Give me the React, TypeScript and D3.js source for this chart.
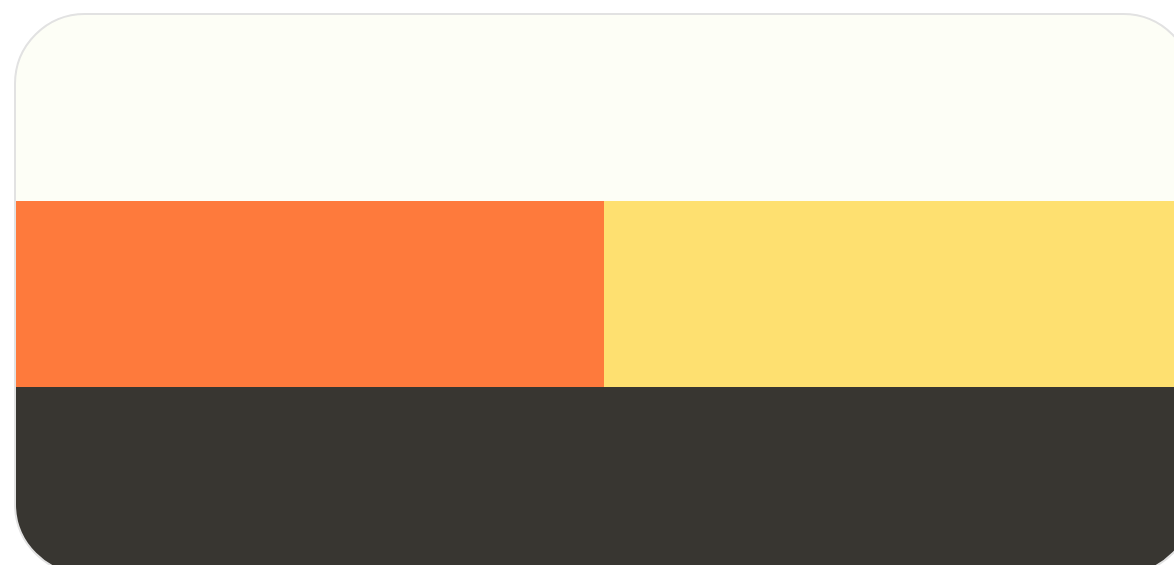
import { scaleBand } from 'd3'

// palette rows, top to bottom
const rowNames = ['row1', 'row2', 'row3'];
const row1 = ['#FDFEF6'];
const row2 = ['#FE7A3C', '#FEE070'];
const row3 = ['#383631'];
const rows = [row1, row2, row3];

function App() {
  const width = 1174;
  const height = 565;
  const cardX = 15;
  const cardY = 14;
  const cardW = 1178;
  const cardH = 560;
  const radius = 70;

  const y = scaleBand<string>()
    .domain(rowNames)
    .range([cardY + 1, cardY + 1 + 186 * 3]);

  return (
    <svg width={width} height={height} style={{ position: 'absolute', left: 0, top: 0 }}>
      <defs>
        <clipPath id="card">
          <rect x={cardX} y={cardY} width={cardW} height={cardH} rx={radius} ry={radius} />
        </clipPath>
      </defs>
      <g clipPath="url(#card)">
        {rows.map((cols, i) => {
          const x = scaleBand<number>()
            .domain(cols.map((_, j) => j))
            .range([cardX + 1, cardX + cardW - 1]);
          return cols.map((c, j) => (
            <rect
              key={`${i}-${j}`}
              x={x(j)}
              y={y(rowNames[i])}
              width={x.bandwidth()}
              height={y.bandwidth()}
              fill={c}
            />
          ));
        })}
      </g>
      <rect
        x={cardX}
        y={cardY}
        width={cardW}
        height={cardH}
        rx={radius}
        ry={radius}
        fill="none"
        stroke="#E2E2E2"
        strokeWidth={2}
      />
    </svg>
  );
}

export default App;
